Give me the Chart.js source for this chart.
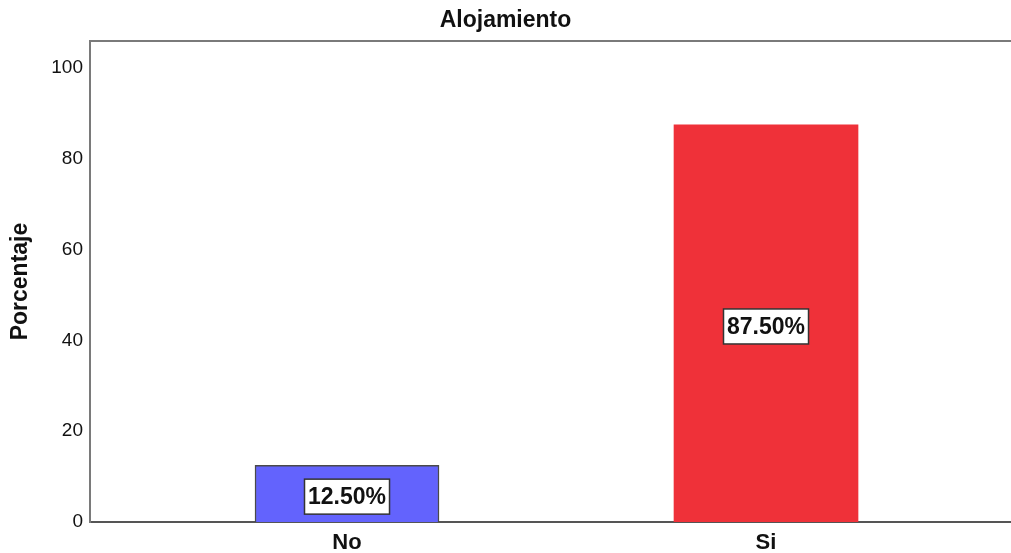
<!DOCTYPE html>
<html>
<head>
<meta charset="utf-8">
<script src="https://cdn.jsdelivr.net/npm/chart.js@4"></script>
<style>
  html, body { margin: 0; padding: 0; background: #fff; overflow: hidden; }
  #wrap { width: 1011px; height: 553px; }
</style>
</head>
<body>
<div id="wrap"><canvas id="chart"></canvas></div>
<script>
const categories = ['No', 'Si'];
const positions = [1, 2];
const percentages = [12.5, 87.5];
const barColors = ['#6363fd', '#ef3139'];
const barBorders = ['#4a4a4a', '#ef3139'];
const yTicks = [0, 20, 40, 60, 80, 100];

const FONT = '"Liberation Sans", Arial, sans-serif';

// frame line along the top of the plot area
const framePlugin = {
  id: 'frame',
  afterDraw(chart) {
    const { ctx, chartArea } = chart;
    ctx.save();
    ctx.strokeStyle = '#7a7a7a';
    ctx.lineWidth = 2;
    ctx.beginPath();
    ctx.moveTo(chartArea.left, chartArea.top);
    ctx.lineTo(chartArea.right, chartArea.top);
    ctx.stroke();
    ctx.restore();
  }
};

// boxed percentage labels in the middle of each bar
const boxLabels = {
  id: 'boxLabels',
  afterDatasetsDraw(chart) {
    const ctx = chart.ctx;
    const meta = chart.getDatasetMeta(0);
    ctx.save();
    ctx.font = 'bold 23px ' + FONT;
    ctx.textAlign = 'center';
    ctx.textBaseline = 'middle';
    meta.data.forEach((bar, i) => {
      const txt = percentages[i].toFixed(2) + '%';
      const cx = bar.x;
      const cy = (bar.y + bar.base) / 2 + 3;
      const w = ctx.measureText(txt).width + 7;
      const h = 35;
      ctx.fillStyle = '#fff';
      ctx.fillRect(cx - w / 2, cy - h / 2, w, h);
      ctx.strokeStyle = '#333';
      ctx.lineWidth = 1.5;
      ctx.strokeRect(cx - w / 2, cy - h / 2, w, h);
      ctx.fillStyle = '#111';
      ctx.fillText(txt, cx, cy + 1);
    });
    ctx.restore();
  }
};

new Chart(document.getElementById('chart'), {
  type: 'bar',
  data: {
    datasets: [{
      data: positions.map((x, i) => ({ x: x, y: percentages[i] })),
      backgroundColor: barColors,
      borderColor: barBorders,
      borderWidth: [1.5, 0],
      barThickness: 184
    }]
  },
  options: {
    responsive: true,
    maintainAspectRatio: false,
    animation: false,
    layout: { padding: 0 },
    plugins: {
      legend: { display: false },
      tooltip: { enabled: false },
      title: {
        display: true,
        text: 'Alojamiento',
        color: '#111',
        font: { family: FONT, size: 23, weight: 'bold' },
        padding: { top: 7, bottom: 6.4 }
      }
    },
    scales: {
      x: {
        type: 'linear',
        offset: false,
        min: 0.3866,
        max: 2.5847,
        afterBuildTicks(scale) {
          scale.ticks = positions.map(v => ({ value: v }));
        },
        afterFit(scale) { scale.height = 31; },
        grid: { display: false, drawTicks: false },
        border: { display: true, color: '#555', width: 2 },
        ticks: {
          padding: 8,
          color: '#111',
          font: { family: FONT, size: 22, weight: 'bold' },
          callback: (v) => categories[positions.indexOf(v)] || ''
        }
      },
      y: {
        min: 0,
        max: 106,
        afterBuildTicks(scale) {
          scale.ticks = yTicks.map(v => ({ value: v }));
        },
        afterFit(scale) { scale.width = 90; },
        grid: { display: false, drawTicks: false },
        border: { display: true, color: '#7a7a7a', width: 2 },
        ticks: {
          padding: 7,
          color: '#111',
          font: { family: FONT, size: 19 }
        },
        title: {
          display: true,
          text: 'Porcentaje',
          color: '#111',
          font: { family: FONT, size: 23, weight: 'bold' },
          padding: { top: 7, bottom: 0 }
        }
      }
    }
  },
  plugins: [framePlugin, boxLabels]
});
</script>
</body>
</html>
